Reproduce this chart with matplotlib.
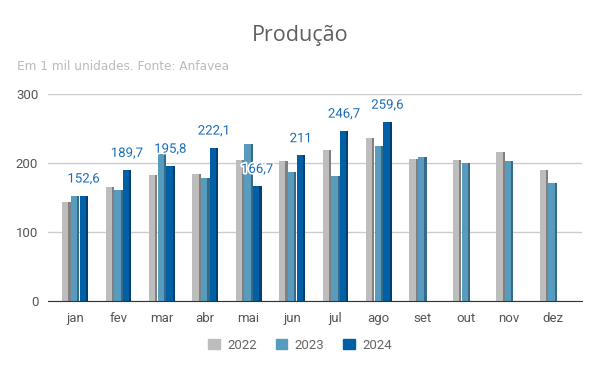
import matplotlib.pyplot as plt
import matplotlib.patheffects as pe
import numpy as np

# dados (mil unidades)
meses = ['jan', 'fev', 'mar', 'abr', 'mai', 'jun', 'jul', 'ago', 'set', 'out', 'nov', 'dez']
prod_2022 = [144, 164.7, 183, 184.5, 204.8, 202.4, 218.4, 236.7, 206.3, 204.8, 215.5, 190.3]
prod_2023 = [151.7, 160.4, 212.6, 177.8, 227, 187.4, 181.6, 225, 208.2, 199.5, 202.4, 170.5]
prod_2024 = [152.6, 189.7, 195.8, 222.1, 166.7, 211, 246.7, 259.6]
rotulos_2024 = ['152,6', '189,7', '195,8', '222,1', '166,7', '211', '246,7', '259,6']

anos = ['2022', '2023', '2024']
cores = ['#bdbdbd', '#579bbf', '#0060a6']
cores_lado = ['#808080', '#386a86', '#003f70']

fig = plt.figure(figsize=(6, 3.71), dpi=100)
ax = fig.add_axes([0.08, 0.1887, 0.89, 0.5579])

x = np.arange(len(meses))
w = 0.2
offsets = [-0.2, 0.0, 0.2]
series = [prod_2022, prod_2023, prod_2024]

for s, vals in enumerate(series):
    xs = x[:len(vals)] + offsets[s]
    # lado escuro (efeito 3d)
    ax.bar(xs + w * 0.06, vals, width=w * 0.88, color=cores_lado[s], zorder=3)
    # face da barra
    ax.bar(xs - w * 0.11, vals, width=w * 0.72, color=cores[s], zorder=4,
           label=anos[s])

# rótulos de 2024
for i, v in enumerate(prod_2024):
    ax.annotate(rotulos_2024[i], (x[i] + offsets[2], v), xytext=(0, 12),
                textcoords='offset points', ha='center', va='center',
                color='#1a6db3', fontsize=9.5, family='Roboto', zorder=6,
                path_effects=[pe.withStroke(linewidth=2.5, foreground='white')])

ax.set_xlim(-0.62, 11.68)
ax.set_ylim(0, 300)
ax.set_yticks([0, 100, 200, 300])
ax.set_xticks(x)
ax.set_xticklabels(meses)
ax.grid(axis='y', color='#cccccc', linewidth=1, zorder=0)
ax.set_axisbelow(True)
for sp in ['top', 'right', 'left']:
    ax.spines[sp].set_visible(False)
ax.spines['bottom'].set_color('#333333')
ax.spines['bottom'].set_zorder(5)
ax.tick_params(length=0, labelsize=9.5, labelcolor='#555555', pad=8)
ax.tick_params(axis='y', pad=7)
for lab in ax.get_xticklabels() + ax.get_yticklabels():
    lab.set_family('Roboto')

# legenda
handles = [plt.Rectangle((0, 0), 1, 1, color=c) for c in cores]
fig.legend(handles, anos, loc='center', bbox_to_anchor=(0.5, 0.07), ncol=3,
           frameon=False, handlelength=0.9, handleheight=0.9, columnspacing=1.4,
           handletextpad=0.55, prop={'family': 'Roboto', 'size': 9.5},
           labelcolor='#666666')

fig.text(0.5, 0.905, 'Produção', ha='center', va='center', fontsize=15.5,
         color='#5f5f5f', family='Open Sans')
fig.text(0.028, 0.822, 'Em 1 mil unidades. Fonte: Anfavea', ha='left', va='center',
         fontsize=8.7, color='#bbbbbb', family='DejaVu Sans')

fig.savefig('out.png', dpi=100)
